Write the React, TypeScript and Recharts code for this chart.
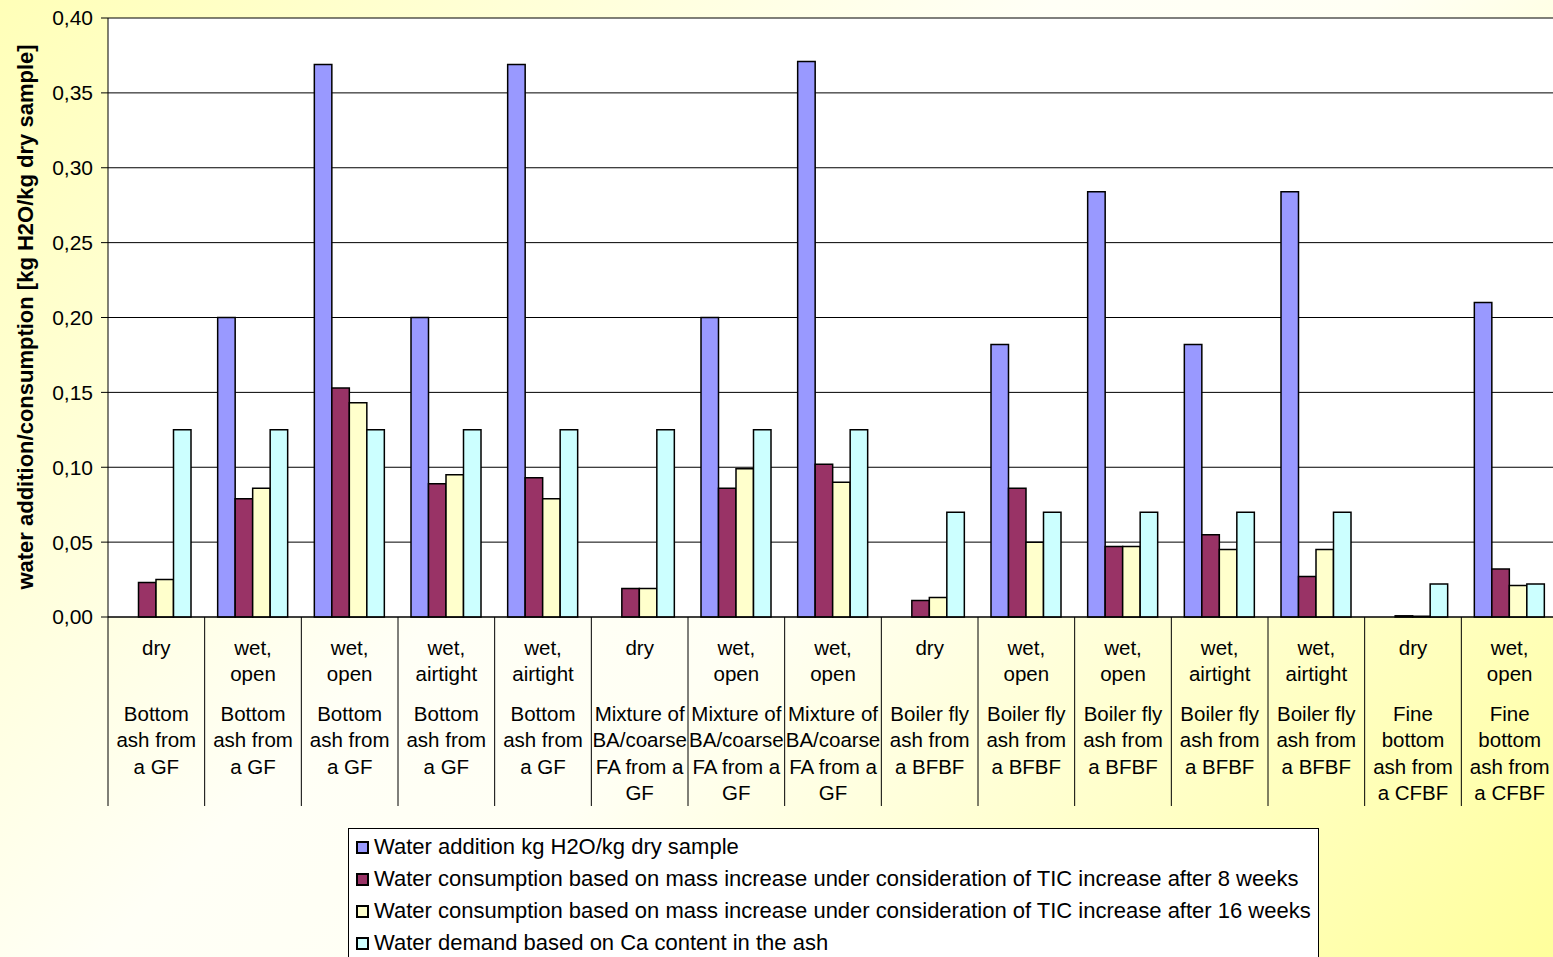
import { BarChart, Bar, XAxis, YAxis, CartesianGrid } from 'recharts';

// Excel chart: water addition vs. water consumption per ash sample
const CONDITIONS = [
  'dry', 'wet,|open', 'wet,|open', 'wet,|airtight', 'wet,|airtight',
  'dry', 'wet,|open', 'wet,|open',
  'dry', 'wet,|open', 'wet,|open', 'wet,|airtight', 'wet,|airtight',
  'dry', 'wet,|open',
];
const SAMPLES = [
  'Bottom|ash from|a GF', 'Bottom|ash from|a GF', 'Bottom|ash from|a GF', 'Bottom|ash from|a GF', 'Bottom|ash from|a GF',
  'Mixture of|BA/coarse|FA from a|GF', 'Mixture of|BA/coarse|FA from a|GF', 'Mixture of|BA/coarse|FA from a|GF',
  'Boiler fly|ash from|a BFBF', 'Boiler fly|ash from|a BFBF', 'Boiler fly|ash from|a BFBF', 'Boiler fly|ash from|a BFBF', 'Boiler fly|ash from|a BFBF',
  'Fine|bottom|ash from|a CFBF', 'Fine|bottom|ash from|a CFBF',
];

const WATER_ADDITION = [null, 0.2, 0.369, 0.2, 0.369, null, 0.2, 0.371, null, 0.182, 0.284, 0.182, 0.284, null, 0.21];
const CONSUMPTION_8W = [0.023, 0.079, 0.153, 0.089, 0.093, 0.019, 0.086, 0.102, 0.011, 0.086, 0.047, 0.055, 0.027, 0.0008, 0.032];
const CONSUMPTION_16W = [0.025, 0.086, 0.143, 0.095, 0.079, 0.019, 0.099, 0.09, 0.013, 0.05, 0.047, 0.045, 0.045, 0.0005, 0.021];
const CA_DEMAND = [0.125, 0.125, 0.125, 0.125, 0.125, 0.125, 0.125, 0.125, 0.07, 0.07, 0.07, 0.07, 0.07, 0.022, 0.022];

const Y_TICKS = [0, 0.05, 0.1, 0.15, 0.2, 0.25, 0.3, 0.35, 0.4];

const SERIES = [
  { key: 'addition', label: 'Water addition kg H2O/kg dry sample', color: '#9999FF' },
  { key: 'c8', label: 'Water consumption based on mass increase under consideration of TIC increase after 8 weeks', color: '#993366' },
  { key: 'c16', label: 'Water consumption based on mass increase under consideration of TIC increase after 16 weeks', color: '#FFFFCC' },
  { key: 'ca', label: 'Water demand based on Ca content in the ash', color: '#CCFFFF' },
];

const data = CONDITIONS.map((c, i) => ({
  name: i,
  condition: c,
  sample: SAMPLES[i],
  addition: WATER_ADDITION[i],
  c8: CONSUMPTION_8W[i],
  c16: CONSUMPTION_16W[i],
  ca: CA_DEMAND[i],
}));

const FONT = '"Liberation Sans", Arial, sans-serif';
const W = 1560;
const H = 957;
const PLOT_LEFT = 108;
const PLOT_RIGHT = 1558;
const CAT_W = (PLOT_RIGHT - PLOT_LEFT) / CONDITIONS.length;

function CategoryTick(props: any) {
  const { x, y, payload } = props;
  const row = data[payload.value];
  const top = row.condition.split('|');
  const bottom = row.sample.split('|');
  return (
    <g>
      <line x1={x - CAT_W / 2} x2={x - CAT_W / 2} y1={y} y2={y + 189} stroke="#000" strokeWidth={1} />
      {top.map((t: string, i: number) => (
        <text key={'a' + i} x={x} y={y + 38 + i * 26} textAnchor="middle" fontSize={20.5} fontFamily={FONT} fill="#000">
          {t}
        </text>
      ))}
      {bottom.map((t: string, i: number) => (
        <text key={'b' + i} x={x} y={y + 104 + i * 26.3} textAnchor="middle" fontSize={20.5} fontFamily={FONT} fill="#000">
          {t}
        </text>
      ))}
    </g>
  );
}

export default function App() {
  return (
    <div
      style={{
        position: 'absolute', left: 0, top: 0, width: 1553, height: H, overflow: 'hidden',
        background: 'linear-gradient(135deg, #FFFFB8 0%, #FFFFF6 42%, #FFFFF4 55%, #FFFF9C 100%)',
        fontFamily: FONT,
      }}
    >
      <BarChart
        width={W}
        height={H}
        data={data}
        margin={{ top: 18, right: W - PLOT_RIGHT, left: 8, bottom: 150 }}
        barSize={17.5}
        barGap={0}
      >
        <CartesianGrid vertical={false} stroke="#000" fill="#fff" />
        <XAxis
          dataKey="name"
          height={190}
          interval={0}
          axisLine={{ stroke: '#000' }}
          tickLine={false}
          tickSize={0}
          tickMargin={0}
          tick={<CategoryTick />}
        />
        <YAxis
          width={100}
          domain={[0, 0.4]}
          ticks={Y_TICKS}
          interval={0}
          axisLine={{ stroke: '#000' }}
          tickLine={{ stroke: '#000' }}
          tickSize={7}
          tickMargin={8}
          tick={{ fill: '#000', fontSize: 21, fontFamily: FONT }}
          tickFormatter={(v: number) => v.toFixed(2).replace('.', ',')}
          label={{
            content: () => (
              <text
                x={26}
                y={317}
                transform="rotate(-90, 26, 317)"
                textAnchor="middle"
                dy={7}
                fontSize={22}
                fontWeight="bold"
                fontFamily={FONT}
                fill="#000"
              >
                water addition/consumption [kg H2O/kg dry sample]
              </text>
            ),
          }}
        />
        {SERIES.map((s) => (
          <Bar key={s.key} dataKey={s.key} fill={s.color} stroke="#000" strokeWidth={1.5} isAnimationActive={false} />
        ))}
      </BarChart>
      <div
        style={{
          position: 'absolute', left: 348, top: 828, width: 971, height: 140,
          border: '1px solid #000', background: '#fff', boxSizing: 'border-box', paddingTop: 2,
        }}
      >
        {SERIES.map((s) => (
          <div key={s.key} style={{ display: 'flex', alignItems: 'center', height: 32, fontSize: 22, color: '#000', whiteSpace: 'nowrap' }}>
            <span
              style={{
                display: 'inline-block', width: 13, height: 13, marginLeft: 7, marginRight: 5,
                background: s.color, border: '2px solid #000', boxSizing: 'border-box',
              }}
            />
            {s.label}
          </div>
        ))}
      </div>
    </div>
  );
}
